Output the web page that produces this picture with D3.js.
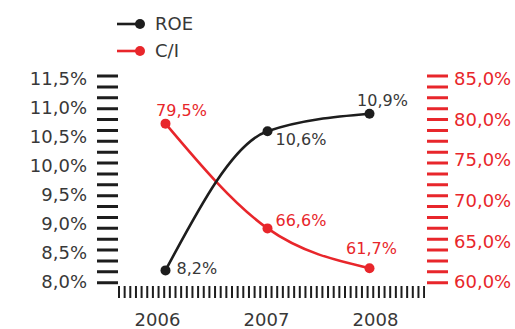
<!DOCTYPE html>
<html>
<head>
<meta charset="utf-8">
<script src="https://cdn.jsdelivr.net/npm/d3@7/dist/d3.min.js"></script>
<style>
  html, body { margin: 0; padding: 0; background: #fff; }
  svg { display: block; font-family: "DejaVu Sans", Verdana, sans-serif; }
</style>
</head>
<body>
<svg id="chart" width="515" height="329"></svg>
<script>
// Data
const years = ["2006", "2007", "2008"];
const roe = [8.2, 10.6, 10.9];          // left axis, %
const costIncome = [79.5, 66.6, 61.7];  // right axis, %
const leftTicks = [8.0, 8.5, 9.0, 9.5, 10.0, 10.5, 11.0, 11.5];
const rightTicks = [60, 65, 70, 75, 80, 85];
const seriesNames = ["ROE", "C/I"];

const black = "#1d1d1d";
const red = "#e8262b";
const grey = "#383838";

const svg = d3.select("#chart");

// Scales
const x = d3.scalePoint().domain(years).range([165.5, 369.5]);
const xLabel = d3.scalePoint().domain(years).range([157, 375]);
const yL = d3.scaleLinear().domain([8, 11.5]).range([282, 79]);
const yR = d3.scaleLinear().domain([60, 85]).range([282, 79]);

const fmt = (d, digits) => d.toFixed(digits).replace(".", ",") + "%";

// Decorative dashed axis bars
const barTop = yL.range()[1] - 4.5, barBottom = yL.range()[0] + 2.5;
svg.append("line")
  .attr("x1", 107.5).attr("x2", 107.5).attr("y1", barTop).attr("y2", barBottom)
  .attr("stroke", black).attr("stroke-width", 21).attr("stroke-dasharray", "3 7.88");
svg.append("line")
  .attr("x1", 437.5).attr("x2", 437.5).attr("y1", barTop).attr("y2", barBottom)
  .attr("stroke", red).attr("stroke-width", 21).attr("stroke-dasharray", "3 7.88");
svg.append("line")
  .attr("x1", 118).attr("x2", 425).attr("y1", 292).attr("y2", 292)
  .attr("stroke", black).attr("stroke-width", 12).attr("stroke-dasharray", "2 3.65");

// Left axis labels
const leftAxis = svg.append("g")
  .attr("transform", "translate(97,0)")
  .call(d3.axisLeft(yL).tickValues(leftTicks).tickSize(0).tickPadding(10)
    .tickFormat(d => fmt(d, 1)));
leftAxis.select(".domain").remove();
leftAxis.selectAll("text").attr("fill", grey).style("font-size", "18px")
  .style("font-family", "'DejaVu Sans', Verdana, sans-serif");

// Right axis labels
const rightAxis = svg.append("g")
  .attr("transform", "translate(448,0)")
  .call(d3.axisRight(yR).tickValues(rightTicks).tickSize(0).tickPadding(6)
    .tickFormat(d => fmt(d, 1)));
rightAxis.select(".domain").remove();
rightAxis.selectAll("text").attr("fill", red).style("font-size", "18px")
  .style("font-family", "'DejaVu Sans', Verdana, sans-serif");

// Year labels
const bottomAxis = svg.append("g")
  .attr("transform", "translate(0,312)")
  .call(d3.axisBottom(xLabel).tickSize(0).tickPadding(0));
bottomAxis.select(".domain").remove();
bottomAxis.selectAll("text").attr("fill", grey).attr("dy", "0.78em").style("font-size", "18px")
  .style("font-family", "'DejaVu Sans', Verdana, sans-serif");

// Lines
const curve = d3.curveMonotoneX;
const roeLine = d3.line().x((d, i) => x(years[i])).y(d => yL(d)).curve(curve);
const ciLine = d3.line().x((d, i) => x(years[i])).y(d => yR(d)).curve(curve);

svg.append("path").datum(costIncome).attr("d", ciLine)
  .attr("fill", "none").attr("stroke", red).attr("stroke-width", 2.6);
svg.append("path").datum(roe).attr("d", roeLine)
  .attr("fill", "none").attr("stroke", black).attr("stroke-width", 2.6);

svg.selectAll(".dot-ci").data(costIncome).join("circle")
  .attr("cx", (d, i) => x(years[i])).attr("cy", d => yR(d)).attr("r", 5).attr("fill", red);
svg.selectAll(".dot-roe").data(roe).join("circle")
  .attr("cx", (d, i) => x(years[i])).attr("cy", d => yL(d)).attr("r", 5).attr("fill", black);

// Value labels: [dx, dy, anchor] relative to each point
const roeLabelPos = [[11, 4, "start"], [8, 14, "start"], [13, -8, "middle"]];
const ciLabelPos = [[16, -8, "middle"], [8, -2, "start"], [2, -14, "middle"]];

svg.selectAll(".lbl-roe").data(roe).join("text")
  .attr("x", (d, i) => x(years[i]) + roeLabelPos[i][0])
  .attr("y", d => yL(d))
  .attr("dy", (d, i) => roeLabelPos[i][1])
  .attr("text-anchor", (d, i) => roeLabelPos[i][2])
  .attr("fill", grey).style("font-size", "16px")
  .text(d => fmt(d, 1));
svg.selectAll(".lbl-ci").data(costIncome).join("text")
  .attr("x", (d, i) => x(years[i]) + ciLabelPos[i][0])
  .attr("y", d => yR(d))
  .attr("dy", (d, i) => ciLabelPos[i][1])
  .attr("text-anchor", (d, i) => ciLabelPos[i][2])
  .attr("fill", red).style("font-size", "16px")
  .text(d => fmt(d, 1));

// Legend
const legend = svg.append("g");
const legendColors = [black, red];
const legendY = [24, 51];
seriesNames.forEach((name, i) => {
  const g = legend.append("g").attr("transform", `translate(0,${legendY[i]})`);
  g.append("line").attr("x1", 117).attr("x2", 140).attr("y1", 0).attr("y2", 0)
    .attr("stroke", legendColors[i]).attr("stroke-width", 2.6);
  g.append("circle").attr("cx", 140).attr("cy", 0).attr("r", 5).attr("fill", legendColors[i]);
  g.append("text").attr("x", 155).attr("y", 0).attr("dy", "0.36em")
    .attr("fill", grey).style("font-size", "18px").text(name);
});
</script>
</body>
</html>
